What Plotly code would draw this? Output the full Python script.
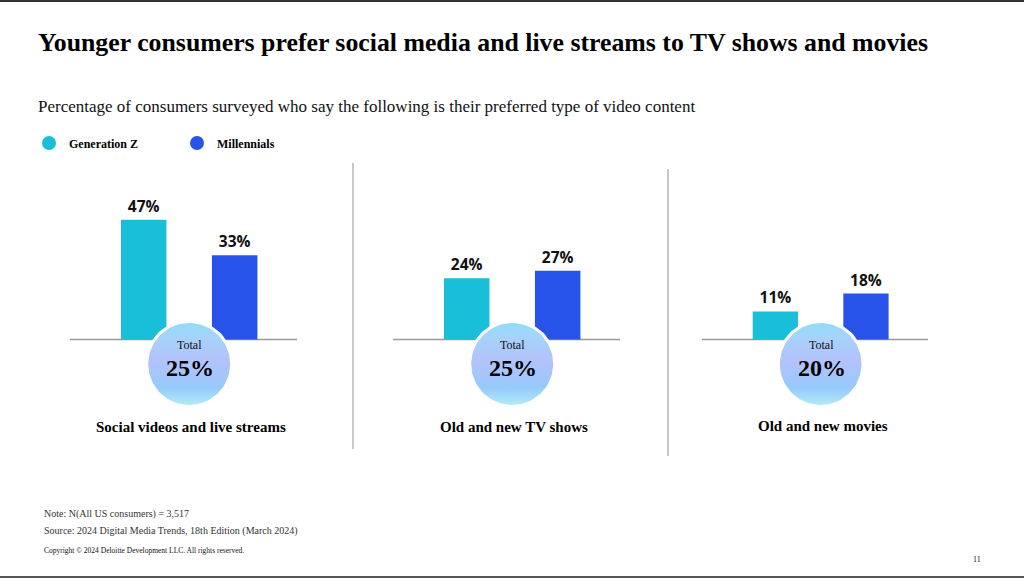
import numpy as np
import plotly.graph_objects as go

# ---------------- data ----------------
categories = ["Social videos and live streams", "Old and new TV shows", "Old and new movies"]
series_names = ["Generation Z", "Millennials"]
genz_values = [47, 24, 11]
millennial_values = [33, 27, 18]
total_values = [25, 25, 20]

title_text = "Younger consumers prefer social media and live streams to TV shows and movies"
subtitle_text = "Percentage of consumers surveyed who say the following is their preferred type of video content"
note_text = "Note: N(All US consumers) = 3,517"
source_text = "Source: 2024 Digital Media Trends, 18th Edition (March 2024)"
copyright_text = "Copyright © 2024 Deloitte Development LLC. All rights reserved."
page_text = "11"

# ---------------- style / layout ----------------
W, H = 1024, 579
C_GENZ = "#19BFD8"
C_MILL = "#2753E8"
SERIF = "Liberation Serif, Times New Roman, serif"
SANS = "Open Sans, Arial, sans-serif"

def px(x):
    return x / W

def py(y):
    return 1 - y / H

BASE_Y = 339.5          # pixel of the 0 baseline
PX_PER_PCT = 2.55
y_range = [-(H - BASE_Y) / PX_PER_PCT, BASE_Y / PX_PER_PCT]
x_range = [-0.81, 1.685]
panel_px = [(70, 297), (393, 620), (702, 928)]
cat_px = (panel_px[0][1] - panel_px[0][0]) / (x_range[1] - x_range[0])
label_y = [427, 427, 425.5]

fig = go.Figure()

x_keys = ["x", "x2", "x3"]
ov_keys = ["x4", "x5", "x6"]
for i, cat in enumerate(categories):
    xa = x_keys[i]
    fig.add_trace(go.Bar(
        x=[series_names[0]], y=[genz_values[i]], xaxis=xa, yaxis="y",
        marker=dict(color=C_GENZ, line=dict(width=0)), width=0.5,
        text=[f"{genz_values[i]}%"], textposition="outside", cliponaxis=False,
        textfont=dict(family=SANS, size=15.5, color="#111111", weight="bold"),
        showlegend=False, name=series_names[0]))
    fig.add_trace(go.Bar(
        x=[series_names[1]], y=[millennial_values[i]], xaxis=xa, yaxis="y",
        marker=dict(color=C_MILL, line=dict(width=0)), width=0.5,
        text=[f"{millennial_values[i]}%"], textposition="outside", cliponaxis=False,
        textfont=dict(family=SANS, size=15.5, color="#111111", weight="bold"),
        showlegend=False, name=series_names[1]))

# gradient "Total" circles (decorative badges centred between the two bars)
r_px = 42.5
t = np.linspace(0, 2 * np.pi, 121)
for i in range(3):
    cx, cy = 0.5, -24.5 / PX_PER_PCT
    fig.add_trace(go.Scatter(
        x=cx + (r_px / cat_px) * np.cos(t), y=cy + (r_px / PX_PER_PCT) * np.sin(t),
        xaxis=ov_keys[i], yaxis="y", mode="lines", fill="toself",
        line=dict(color="white", width=3),
        fillgradient=dict(type="vertical", colorscale=[
            [0.0, "#B2EEF6"], [0.22, "#97CAFB"], [0.55, "#B4C2FC"],
            [0.85, "#A3D5FA"], [1.0, "#8EDCF6"]]),
        hoverinfo="skip", showlegend=False, cliponaxis=False))
    panel_cx = panel_px[i][0] + (0.5 - x_range[0]) * cat_px
    fig.add_annotation(x=px(panel_cx), y=py(345), xref="paper", yref="paper",
                       xanchor="center", yanchor="middle",
                       text="Total", showarrow=False,
                       font=dict(family=SERIF, size=12, color="#111111"))
    fig.add_annotation(x=px(panel_cx + 1), y=py(368), xref="paper", yref="paper",
                       xanchor="center", yanchor="middle",
                       text=f"{total_values[i]}%", showarrow=False,
                       font=dict(family=SERIF, size=24, color="#000000", weight="bold"))
    fig.add_annotation(x=px(panel_cx + 2), y=py(label_y[i]), xref="paper", yref="paper",
                       xanchor="center", yanchor="middle",
                       text=categories[i], showarrow=False,
                       font=dict(family=SERIF, size=15, color="#000000", weight="bold"))
    # baseline
    fig.add_shape(type="line", xref=f"{x_keys[i]} domain", yref="y",
                  x0=0, x1=1, y0=0, y1=0, layer="below",
                  line=dict(color="#9A9A9A", width=1.5))

# legend entries
for name, col in zip(series_names, [C_GENZ, C_MILL]):
    fig.add_trace(go.Scatter(x=[None], y=[None], mode="markers", name=name,
                             marker=dict(color=col, size=14, symbol="circle"),
                             showlegend=True))

axis_common = dict(range=x_range, showgrid=False, zeroline=False, showline=False,
                   showticklabels=False, ticks="", fixedrange=True, type="category",
                   categoryorder="array", categoryarray=series_names)
layout_axes = {}
for i, key in enumerate(["xaxis", "xaxis2", "xaxis3"]):
    d = dict(axis_common)
    d["domain"] = [px(panel_px[i][0]), px(panel_px[i][1])]
    d["anchor"] = "y"
    layout_axes[key] = d
for i, key in enumerate(["xaxis4", "xaxis5", "xaxis6"]):
    layout_axes[key] = dict(range=x_range, type="linear", visible=False,
                            overlaying=x_keys[i], anchor="y", fixedrange=True,
                            domain=[px(panel_px[i][0]), px(panel_px[i][1])])

fig.update_layout(
    width=W, height=H, margin=dict(l=0, r=0, t=0, b=0),
    paper_bgcolor="white", plot_bgcolor="rgba(0,0,0,0)",
    barmode="overlay",
    yaxis=dict(range=y_range, domain=[0, 1], visible=False, fixedrange=True),
    legend=dict(orientation="h", x=px(29), y=py(143), xanchor="left", yanchor="middle",
                font=dict(family=SERIF, size=12, color="#000000", weight="bold"),
                entrywidth=103, itemwidth=30, bgcolor="rgba(0,0,0,0)", tracegroupgap=0),
    **layout_axes,
)

# separators and page borders
fig.add_shape(type="line", xref="paper", yref="paper", x0=px(353), x1=px(353),
              y0=py(163), y1=py(449), line=dict(color="#C8C8C8", width=2))
fig.add_shape(type="line", xref="paper", yref="paper", x0=px(668), x1=px(668),
              y0=py(169), y1=py(456), line=dict(color="#C8C8C8", width=2))
fig.add_shape(type="line", xref="paper", yref="paper", x0=0, x1=1,
              y0=py(1), y1=py(1), line=dict(color="#333333", width=2))
fig.add_shape(type="line", xref="paper", yref="paper", x0=0, x1=1,
              y0=py(577), y1=py(577), line=dict(color="#555555", width=2))

# titles and footer
def left_text(x, y, text, size, color, weight="normal"):
    fig.add_annotation(x=px(x), y=py(y), xref="paper", yref="paper",
                       xanchor="left", yanchor="middle", text=text, showarrow=False,
                       font=dict(family=SERIF, size=size, color=color, weight=weight))

left_text(36, 42, title_text, 25.8, "#000000", "bold")
left_text(36, 106, subtitle_text, 17, "#111111")
left_text(42, 514, note_text, 10, "#333333")
left_text(42, 531, source_text, 10, "#333333")
left_text(42, 550, copyright_text, 7.5, "#111111")
fig.add_annotation(x=px(977), y=py(559), xref="paper", yref="paper",
                   xanchor="center", yanchor="middle",
                   text=page_text, showarrow=False,
                   font=dict(family=SERIF, size=8, color="#111111"))

fig.write_html("out.html", config={"displayModeBar": False},
               post_script="document.body.style.margin='0px';")
